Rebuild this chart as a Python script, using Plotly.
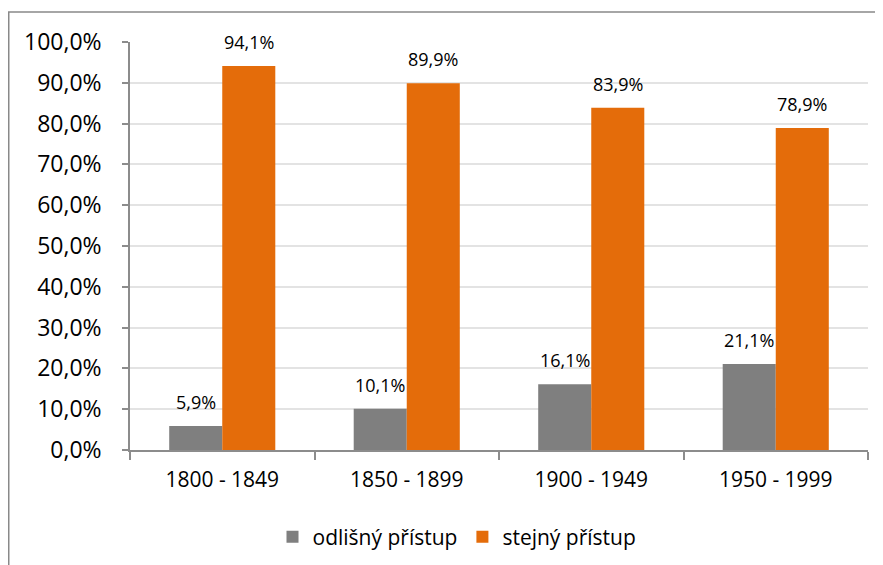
import plotly.graph_objects as go

categories = ["1800 - 1849", "1850 - 1899", "1900 - 1949", "1950 - 1999"]
odlisny = [5.9, 10.1, 16.1, 21.1]
stejny = [94.1, 89.9, 83.9, 78.9]
series_names = ["odlišný přístup", "stejný přístup"]
y_ticks = [0, 10, 20, 30, 40, 50, 60, 70, 80, 90, 100]

GRAY = "#7F7F7F"
ORANGE = "#E46C0A"
FONT = "Open Sans"

OFF = 8  # page body margin
W, H = 883 - OFF, 565 - OFF
ML, MR, MT, MB = 130 - OFF, 15, 42 - OFF, 115
PW = W - ML - MR
PH = H - MT - MB

fig = go.Figure()
fig.add_trace(go.Bar(x=categories, y=odlisny, name=series_names[0],
                     marker=dict(color=GRAY, line=dict(width=0))))
fig.add_trace(go.Bar(x=categories, y=stejny, name=series_names[1],
                     marker=dict(color=ORANGE, line=dict(width=0))))

def fmt(v):
    return f"{v:.1f}".replace(".", ",") + "%"

bargap = 0.425
bar_w = PW / len(categories) * (1 - bargap) / 2
annotations = []
for vals, sign in ((odlisny, -1), (stejny, 1)):
    for c, v in zip(categories, vals):
        annotations.append(dict(
            x=c, y=v, xref="x", yref="y", text=fmt(v), showarrow=False,
            xanchor="center", yanchor="bottom", xshift=sign * bar_w / 2,
            yshift=10, font=dict(family=FONT, size=18, color="#000000")))

# screen px -> paper coords
def px_to_paper_x(px):
    return (px - OFF - ML) / PW

def px_to_paper_y(py):
    return (H - MB - (py - OFF)) / PH

shapes = [dict(type="rect", xref="paper", yref="paper",
               x0=px_to_paper_x(8.75), x1=px_to_paper_x(900),
               y0=px_to_paper_y(600), y1=px_to_paper_y(12),
               line=dict(color="#898989", width=1.5), fillcolor="rgba(0,0,0,0)",
               layer="below")]

fig.update_layout(
    width=W, height=H,
    margin=dict(l=ML, r=MR, t=MT, b=MB, autoexpand=False),
    paper_bgcolor="white", plot_bgcolor="white",
    barmode="group", bargap=bargap, bargroupgap=0,
    font=dict(family=FONT, color="#000000"),
    showlegend=True,
    legend=dict(orientation="h", x=px_to_paper_x(457), xanchor="center",
                y=px_to_paper_y(537), yanchor="middle",
                font=dict(family=FONT, size=21, color="#000000"),
                bgcolor="rgba(0,0,0,0)", itemclick=False),
    annotations=annotations,
    shapes=shapes,
    xaxis=dict(type="category", showgrid=False, showline=True,
               automargin=False,
               linecolor="#8C8C8C", linewidth=1.5,
               ticks="outside", tickson="boundaries", ticklen=8,
               tickcolor="#8C8C8C", tickwidth=1.5,
               tickfont=dict(family=FONT, size=21, color="#000000"),
               ticklabelstandoff=10),
    yaxis=dict(range=[0, 100], tickmode="array", tickvals=y_ticks,
               ticktext=[fmt(t) for t in y_ticks], automargin=False,
               showgrid=True, gridcolor="#E3E3E3",
               gridwidth=1.5, showline=True, linecolor="#8C8C8C",
               linewidth=1.5, ticks="outside", ticklen=6,
               tickcolor="#8C8C8C", tickwidth=1.5, zeroline=False,
               tickfont=dict(family=FONT, size=23, color="#000000"),
               ticklabelstandoff=16),
)

fig.write_html("out.html")
